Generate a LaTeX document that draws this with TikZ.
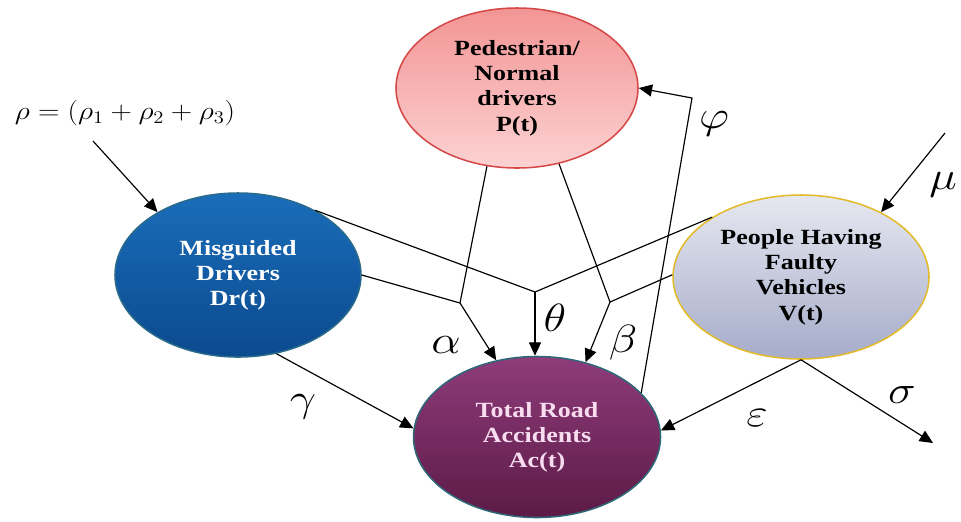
\documentclass[tikz,border=0pt]{standalone}
\usepackage{fontspec}
\usepackage{graphicx}
\setmainfont{Liberation Serif}
\newfontfamily\nodefont[FakeStretch=1.2]{Liberation Serif Bold}
\usetikzlibrary{shapes.geometric,arrows.meta}
\definecolor{pTop}{HTML}{F39494}
\definecolor{pBot}{HTML}{FCD2D2}
\definecolor{pLine}{HTML}{D54848}
\definecolor{dTop}{HTML}{1A6DBA}
\definecolor{dBot}{HTML}{0B4A8E}
\definecolor{dLine}{HTML}{2A6A8A}
\definecolor{vTop}{HTML}{E6E8F0}
\definecolor{vBot}{HTML}{A6ACCA}
\definecolor{vLine}{HTML}{E2BA2A}
\definecolor{aTop}{HTML}{8E3C7A}
\definecolor{aBot}{HTML}{5C1A46}
\definecolor{aLine}{HTML}{2E6878}
\definecolor{aText}{HTML}{F8DDF0}
\newcommand{\gk}[1]{\scalebox{1.6}[1.35]{$#1$}}
\tikzset{
  state/.style={ellipse, draw, line width=1.3pt, inner sep=0pt, align=center,
    font=\nodefont\fontsize{18.5}{21.5}\selectfont},
  conn/.style={line width=1pt, black},
  arr/.style={conn, -{Triangle[length=4mm,width=3.6mm]}},
  glab/.style={font=\Huge, inner sep=0pt},
}
\begin{document}
\begin{tikzpicture}[x=0.03cm,y=-0.03cm]
\useasboundingbox (0,0) rectangle (961,521);
% states
\node[state, top color=pTop, bottom color=pBot, draw=pLine,
  minimum width=7.26cm, minimum height=4.8cm, text=black] (P) at (517,88)
  {Pedestrian/\\Normal\\drivers\\P(t)};
\node[state, top color=dTop, bottom color=dBot, draw=dLine,
  minimum width=7.38cm, minimum height=4.92cm, text=white] (Dr) at (238,275)
  {Misguided\\Drivers\\Dr(t)};
\node[state, top color=vTop, bottom color=vBot, draw=vLine,
  minimum width=7.68cm, minimum height=4.92cm, text=black] (V) at (801,277)
  {People Having\\Faulty\\Vehicles\\V(t)};
\node[state, top color=aTop, bottom color=aBot, draw=aLine,
  minimum width=7.41cm, minimum height=4.83cm, text=aText] (Ac) at (537,437)
  {Total Road\\Accidents\\Ac(t)};
% free ends and junctions
\coordinate (rho0) at (93,141);
\coordinate (mu0) at (945,133);
\coordinate (ja) at (460,303);
\coordinate (jt) at (535,292);
\coordinate (jb) at (610,302);
\coordinate (phic) at (692,98);
\coordinate (sig) at (933,443);
% connectors
\draw[arr] (rho0) -- (Dr.142);
\draw[arr] (mu0) -- (V.39);
\draw[conn] (Dr.east) -- (ja);
\draw[conn] (P.-111) -- (ja);
\draw[arr] (ja) -- (Ac.118);
\draw[conn] (Dr.40) -- (jt) -- (V.146);
\draw[arr] (jt) -- (jt |- Ac.north);
\draw[conn] (P.-61) -- (jb) -- (V.179);
\draw[arr] (jb) -- (Ac.57);
\draw[arr] (Ac.23) -- (phic) -- (P.east);
\draw[arr] (Dr.-64) -- (Ac.176);
\draw[arr] (V.south) -- (Ac.3);
\draw[arr] (V.south) -- (sig);
% labels
\node[font=\fontsize{20.74}{21}\selectfont, inner sep=0pt] (rholab) at (125,113)
  {\scalebox{1.22}[1.05]{$\rho=\bigl(\rho_1+\rho_2+\rho_3\bigr)$}};
\node[glab] (alab) at (446,345) {\gk{\alpha}};
\node[glab] (tlab) at (555,318) {\gk{\theta}};
\node[glab] (blab) at (623,343) {\gk{\beta}};
\node[glab] (glab) at (303,407) {\gk{\gamma}};
\node[glab] (elab) at (757,418) {\gk{\varepsilon}};
\node[glab] (slab) at (902,395) {\gk{\sigma}};
\node[glab] (flab) at (714,124) {\gk{\varphi}};
\node[glab] (mlab) at (943,185) {\gk{\mu}};
\end{tikzpicture}
\end{document}
